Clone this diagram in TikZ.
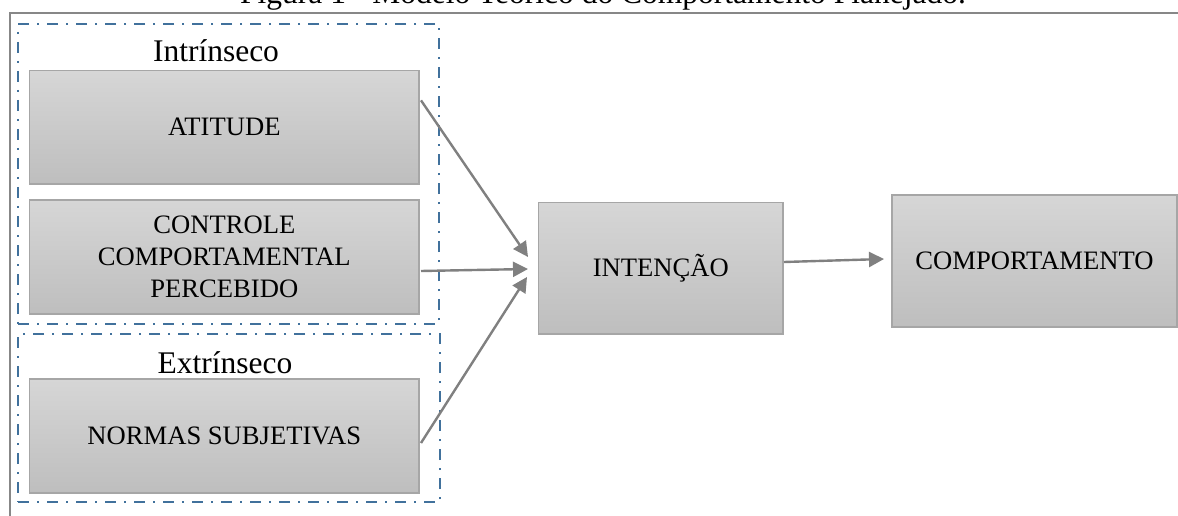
\documentclass[tikz,border=0pt]{standalone}
\usepackage{fontspec}
\setmainfont{Liberation Serif}
\usetikzlibrary{arrows.meta,calc}
\definecolor{frameg}{RGB}{135,135,135}
\definecolor{dashblue}{RGB}{65,113,156}
\definecolor{boxedge}{RGB}{166,166,166}
\definecolor{boxtop}{RGB}{214,214,214}
\definecolor{boxbot}{RGB}{190,190,190}
\definecolor{arrowg}{RGB}{128,128,128}
\begin{document}
\begin{tikzpicture}[x=1pt,y=-1pt,
  gbox/.style={draw=boxedge,line width=1.5pt,top color=boxtop,bottom color=boxbot,inner sep=0pt,outer sep=0pt,align=center,font=\fontsize{26.6}{31.7}\selectfont},
  grp/.style={draw=dashblue,line width=2.5pt,dash pattern=on 11pt off 8pt on 2pt off 8pt,inner sep=0pt,outer sep=0pt},
  conn/.style={draw=arrowg,line width=2.4pt,-{Triangle[length=15pt,width=15pt]}},
  lbl/.style={font=\fontsize{31.5}{36}\selectfont,inner sep=0pt,anchor=base}]
\clip (0,0) rectangle (1178,516);
\fill[white] (0,0) rectangle (1178,516);
% outer frame
\draw[frameg,line width=2pt] (9.5,530) -- (9.5,12.7) -- (1190,12.7);
% title
\node[lbl] (title) at (603,3.5) {Figura 1 - Modelo Teórico do Comportamento Planejado.};
% groups
\node[grp,minimum width=421pt,minimum height=300pt] (intr) at (228.5,174) {};
\node[grp,minimum width=422pt,minimum height=168pt] (extr) at (229,418) {};
\node[lbl] (lintr) at (216,62) {Intrínseco};
\node[lbl] (lextr) at (225,373) {Extrínseco};
% boxes
\node[gbox,minimum width=389.3pt,minimum height=113.3pt] (atitude) at (224.35,127.35) {ATITUDE};
\node[gbox,minimum width=389.3pt,minimum height=114pt] (controle) at (224.35,257) {CONTROLE\\COMPORTAMENTAL\\PERCEBIDO};
\node[gbox,minimum width=389.3pt,minimum height=114pt] (normas) at (224.35,436) {NORMAS SUBJETIVAS};
\node[gbox,minimum width=244.3pt,minimum height=131.3pt] (intencao) at (660.85,268.35) {INTENÇÃO};
\node[gbox,minimum width=285pt,minimum height=132pt] (comport) at (1034.5,261) {COMPORTAMENTO};
% connector ends
\coordinate (s1) at ($(atitude.east)+(2,-27)$);
\coordinate (s2) at ($(controle.east)+(2,14)$);
\coordinate (s3) at ($(normas.east)+(2,7)$);
\coordinate (s4) at ($(intencao.east)+(1,-6.35)$);
\coordinate (t1) at ($(intencao.west)+(-10.7,-11.35)$);
\coordinate (t2) at ($(intencao.west)+(-10.7,0.65)$);
\coordinate (t3) at ($(intencao.west)+(-11.7,8.65)$);
\coordinate (t4) at ($(comport.west)+(-8,-2)$);
\draw[conn] (s1) -- (t1);
\draw[conn] (s2) -- (t2);
\draw[conn] (s3) -- (t3);
\draw[conn] (s4) -- (t4);
\end{tikzpicture}
\end{document}
